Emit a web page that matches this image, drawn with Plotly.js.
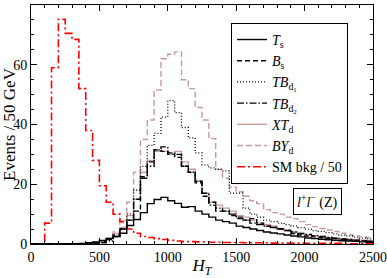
<!DOCTYPE html>
<html><head><meta charset="utf-8">
<script src="https://cdn.plot.ly/plotly-3.0.1.min.js"></script>
<style>html,body{margin:0;padding:0;background:#fff}#c{width:387px;height:278px}</style>
</head><body><div id="c"></div>
<script>
// bin edges (GeV), 50 GeV bins
var edges = [0,50,100,150,200,250,300,350,400,450,500,550,600,650,700,750,800,850,900,950,
  1000,1050,1100,1150,1200,1250,1300,1350,1400,1450,1500,1550,1600,1650,1700,1750,1800,1850,1900,1950,
  2000,2050,2100,2150,2200,2250,2300,2350,2400,2450,2500];

var Ts = [0,0,0,0,0,0,0.1,0.2,0.4,0.7,1.2,1.8,2.5,3.6,6.2,8.2,10.5,13.5,14.9,15.6,
  14.5,13.6,12.3,12.5,11,10,9,8,7.5,7,6,5.5,5,4.5,4,3.7,3.4,3,2.7,2.4,
  2,1.8,1.6,1.4,1.2,1.1,1,0.9,0.7,0.6];
var Bs = [0,0,0,0,0,0,0,0.1,0.2,0.3,0.5,1.5,3,5,8,11,22.5,27.5,31.5,31,
  30,29,26,24,20.5,16,14,11,11,9.5,9,8,8.5,7,6,5.5,5,4.5,3.5,3,
  2.7,2.4,2.1,1.9,1.7,1.5,1.3,1.1,1,0.8];
var TBd1 = [0,0,0,0,0,0,0,0.1,0.2,0.3,0.4,1,2.5,5,10,18,26,33,37,42.5,
  48,44,39,35.5,30.5,26.5,25.5,25,24.5,17,17,12,10,9,8,7.5,7,6.5,6,5.5,
  5,4.5,4.2,3.8,3.4,3,2.7,2.3,2,1.7];
var TBd2 = [0,0,0,0,0,0,0,0.1,0.2,0.4,0.7,1.5,2.5,5,8,15,22,26,31.5,32.5,
  30.5,30,26,24,21,17,13,12,11,10,8.5,8,7,6.5,6,5.5,5,4.5,4,3.5,
  3.2,2.8,2.5,2.2,1.9,1.7,1.5,1.3,1.1,0.9];
var XTd = [0,0,0,0,0,0,0,0.1,0.3,0.5,1,2,3.5,5.5,9.5,15,24,28,31,31,
  30,31,27.5,25,21,17,14,13,12,11,9.5,9,8,7,6.5,6,5.2,4.5,4,3.5,
  3.2,2.8,2.5,2.2,2,1.8,1.6,1.4,1.3,1.1];
var BYd = [0,0,0,0,0,0,0,0.1,0.2,0.3,0.5,2,4,8,14,24,35,41.5,51.5,62,
  63.5,64.3,55,52,45.7,41.5,35.3,25,22,19,17.5,16,14.5,13.5,11.5,10.5,10,9,8.5,7.5,
  6.5,5.8,5.2,4.7,4.2,3.6,3.2,2.8,2.4,2.2];
var SM = [0,0,7,59,75.2,70.5,68.5,52,38,28,19.5,14,10,7.5,5,3.6,2.5,2.2,1.8,1.5,
  1.2,1,0.8,0.8,0.7,0.7,0.6,0.6,0.5,0.5,0.5,0.4,0.4,0.4,0.4,0.3,0.3,0.3,0.3,0.3,
  0.2,0.2,0.2,0.2,0.2,0.2,0.1,0.1,0.1,0.1];

var names = ['<i>T</i><sub>s</sub>','<i>B</i><sub>s</sub>','<i>TB</i><sub>d<sub>1</sub></sub>',
  '<i>TB</i><sub>d<sub>2</sub></sub>','<i>XT</i><sub>d</sub>','<i>BY</i><sub>d</sub>','SM bkg / 50'];

var pink = '#c99a9a';
function tr(vals, name, color, dash, width, rank){
  return {x: edges, y: vals.concat([vals[vals.length-1]]), name: name, type:'scatter', mode:'lines',
    line:{shape:'hv', color: color, dash: dash, width: width}, legendrank: rank};
}
var data = [
  tr(XTd, names[4], pink, 'solid', 1.4, 5),
  tr(BYd, names[5], pink, '6px,3px', 1.4, 6),
  tr(SM, names[6], '#ff0000', '8px,3px,2px,3px', 1.6, 7),
  tr(TBd1, names[2], '#000', '1px,2px', 1.3, 3),
  tr(TBd2, names[3], '#000', '7px,2px,1.5px,2px', 1.4, 4),
  tr(Bs, names[1], '#000', '5px,3px', 1.4, 2),
  tr(Ts, names[0], '#000', 'solid', 1.4, 1)
];

var ff = 'Liberation Serif, serif';
var layout = {
  width:387, height:278,
  margin:{l:31, r:14, t:5, b:34},
  paper_bgcolor:'#fff', plot_bgcolor:'#fff',
  font:{family:ff, color:'#000', size:14},
  showlegend:true,
  legend:{x:0.927, y:0.925, xanchor:'right', yanchor:'top', bordercolor:'#000', borderwidth:1,
    bgcolor:'rgba(255,255,255,0)', font:{family:ff, size:14, color:'#000'},
    traceorder:'normal', itemwidth:30, tracegroupgap:0},
  xaxis:{range:[0,2500], tickvals:[0,500,1000,1500,2000,2500], ticks:'inside', ticklen:6, tickwidth:1,
    tickcolor:'#000', showline:true, linecolor:'#000', linewidth:1, mirror:'allticks', showgrid:false, zeroline:false,
    minor:{dtick:100, ticks:'inside', ticklen:3, tickcolor:'#000', showgrid:false},
    tickfont:{family:ff, size:14, color:'#000'},
    title:{text:'<i>H</i><sub><i>T</i></sub>', font:{family:ff, size:17, color:'#000'}, standoff:0}},
  yaxis:{range:[0,80], tickvals:[0,20,40,60,80], ticks:'inside', ticklen:6, tickwidth:1,
    tickcolor:'#000', showline:true, linecolor:'#000', linewidth:1, mirror:'allticks', showgrid:false, zeroline:false,
    minor:{dtick:5, ticks:'inside', ticklen:3, tickcolor:'#000', showgrid:false},
    tickfont:{family:ff, size:14, color:'#000'},
    title:{text:'Events / 50 GeV', font:{family:ff, size:17, color:'#000'}, standoff:0}},
  annotations:[{xref:'paper', yref:'paper', x:0.838, y:0.176, xanchor:'center', yanchor:'middle', showarrow:false,
    text:'<i>l</i><sup>+</sup><i>l</i><sup>\u2212</sup> (Z)', bordercolor:'#000', borderwidth:1, borderpad:3,
    font:{family:ff, size:14, color:'#000'}}]
};
Plotly.newPlot('c', data, layout, {staticPlot:true, displayModeBar:false});
</script>
</body></html>
